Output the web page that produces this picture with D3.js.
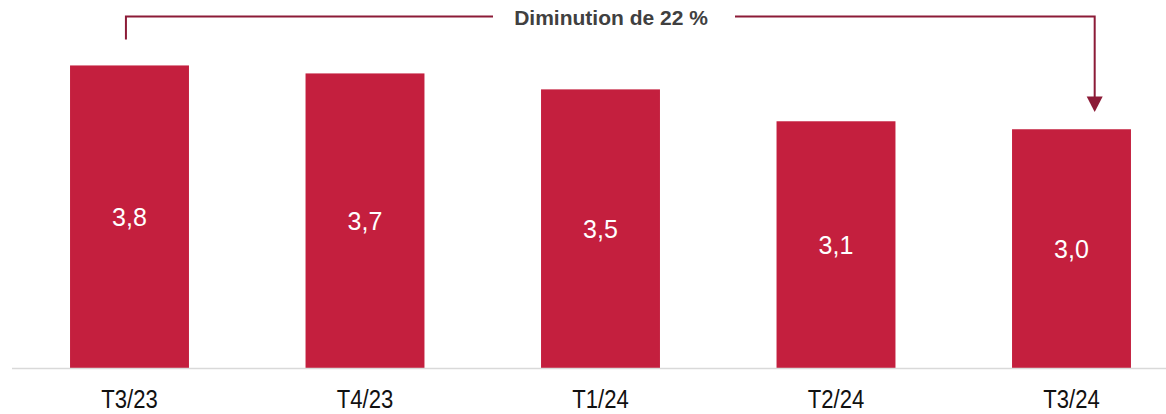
<!DOCTYPE html>
<html lang="fr">
<head>
<meta charset="utf-8">
<script src="https://cdn.jsdelivr.net/npm/d3@7"></script>
<style>
  html, body { margin: 0; padding: 0; background: #ffffff; }
  svg { display: block; }
</style>
</head>
<body>
<svg id="chart" width="1166" height="414"></svg>
<script>
// Quarterly values (one decimal, French formatting)
const categories = ["T3/23", "T4/23", "T1/24", "T2/24", "T3/24"];
const values = [3.8, 3.7, 3.5, 3.1, 3.0];
const valueLabels = ["3,8", "3,7", "3,5", "3,1", "3,0"];
const annotationText = "Diminution de 22 %";

const W = 1166, H = 414;
const barColor = "#c41f3e";
const arrowColor = "#8c1b37";

const svg = d3.select("#chart");

const x = d3.scaleBand()
  .domain(categories)
  .range([11.75, 1189.25])
  .paddingInner(0.495)
  .paddingOuter(0.2475);

const y = d3.scaleLinear()
  .domain([0, 4])
  .range([368.5, 49.5]);

const data = categories.map((c, i) => ({ cat: c, value: values[i], label: valueLabels[i] }));

// Bars
svg.append("g")
  .selectAll("rect")
  .data(data)
  .join("rect")
  .attr("x", d => x(d.cat))
  .attr("y", d => y(d.value))
  .attr("width", x.bandwidth())
  .attr("height", d => y(0) - y(d.value))
  .attr("fill", barColor);

// Baseline
svg.append("line")
  .attr("x1", 12).attr("x2", W)
  .attr("y1", y(0)).attr("y2", y(0))
  .attr("stroke", "#d9d9d9")
  .attr("stroke-width", 1.5);

// Value labels centred inside each bar
svg.append("g")
  .selectAll("text")
  .data(data)
  .join("text")
  .attr("x", d => x(d.cat) + x.bandwidth() / 2)
  .attr("y", d => (y(d.value) + y(0)) / 2 + 9)
  .attr("text-anchor", "middle")
  .attr("font-family", "Liberation Sans, Arial, sans-serif")
  .attr("font-size", 25)
  .attr("fill", "#ffffff")
  .text(d => d.label);

// Category axis labels (tall, narrow lettering)
svg.append("g")
  .selectAll("text")
  .data(categories)
  .join("text")
  .attr("transform", d => `translate(${x(d) + x.bandwidth() / 2},408) scale(0.85,1)`)
  .attr("text-anchor", "middle")
  .attr("font-family", "Liberation Sans, Arial, sans-serif")
  .attr("font-size", 26)
  .attr("fill", "#111111")
  .text(d => d);

// Bracket annotation from the first to the last quarter
const xStart = x(categories[0]) + x.bandwidth() * 0.47;
const xEnd = x(categories[categories.length - 1]) + x.bandwidth() * 0.695;
const yTop = 16.5;
const labelCx = 614;
const gapHalf = 121;
const tipY = 112;

const ann = svg.append("g")
  .attr("fill", "none")
  .attr("stroke", arrowColor)
  .attr("stroke-width", 2);

ann.append("path")
  .attr("d", `M${xStart},39.5 V${yTop} H${labelCx - gapHalf}`);
ann.append("path")
  .attr("d", `M${labelCx + gapHalf},${yTop} H${xEnd} V${tipY - 14}`);

svg.append("path")
  .attr("d", `M${xEnd - 8},${tipY - 15.5} L${xEnd + 8},${tipY - 15.5} L${xEnd},${tipY} Z`)
  .attr("fill", arrowColor);

svg.append("text")
  .attr("x", labelCx - 3)
  .attr("y", 25)
  .attr("text-anchor", "middle")
  .attr("font-family", "Liberation Sans, Arial, sans-serif")
  .attr("font-weight", "bold")
  .attr("font-size", 21)
  .attr("fill", "#404040")
  .text(annotationText);
</script>
</body>
</html>
